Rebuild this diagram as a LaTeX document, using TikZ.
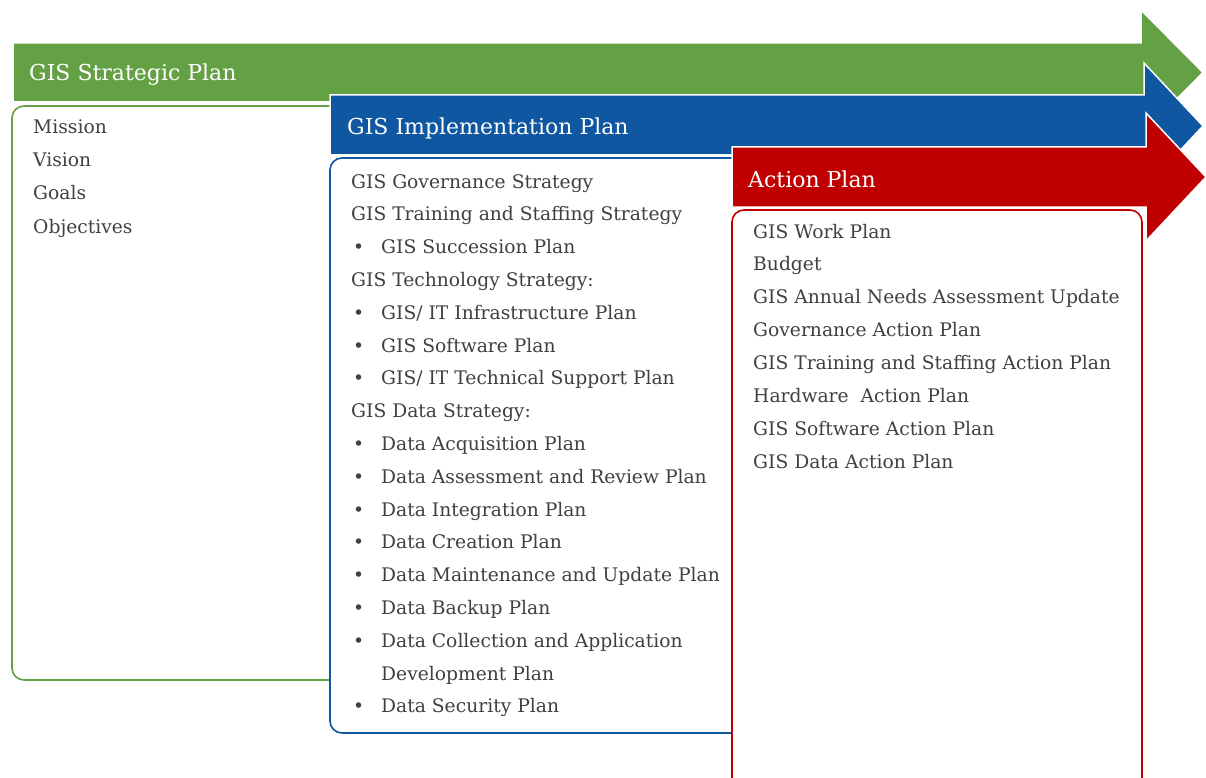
\documentclass[tikz,border=0pt]{standalone}
\usepackage{fontspec}
\setmainfont{DejaVu Serif}

\definecolor{stratgreen}{HTML}{64A044}
\definecolor{implblue}{HTML}{0F57A0}
\definecolor{actred}{HTML}{C00000}
\definecolor{bodygray}{HTML}{404040}

\tikzset{
  planarrow/.style={fill=#1, draw=white, line width=1.5pt},
  planbox/.style={draw=#1, line width=1.6pt, rounded corners=12pt},
  heading/.style={anchor=base west, inner sep=0pt, text=white,
    font=\fontsize{22}{26}\selectfont},
  item/.style={anchor=base west, inner sep=0pt, text=bodygray,
    font=\fontsize{18.7}{22}\selectfont},
}

\begin{document}
\begin{tikzpicture}[x=1pt,y=-1pt]
        \useasboundingbox (0,0) rectangle (1206,778);
        \clip (0,0) rectangle (1206,778);

        % Strategic plan: arrow and box (right side runs under the next box)
        \path[planarrow=stratgreen] (13,43) -- (1141,43) -- (1141,10) -- (1203,72.5)
            -- (1141,135) -- (1141,102) -- (13,102) -- cycle;
        \path[planbox=stratgreen] (345,106) -- (12,106) -- (12,680) -- (345,680);
        \node[heading] (strat-title) at (29,81) {GIS Strategic Plan};
        \foreach \t [count=\i] in {Mission, Vision, Goals, Objectives} {
            \pgfmathsetmacro{\y}{127+33*(\i-1)}
            \node[item] (strat-\i) at (33,\y+7) {\t};
        }

        % Implementation plan: arrow and box
        \path[planarrow=implblue] (330,95) -- (1144,95) -- (1144,63) -- (1203,126)
            -- (1144,189) -- (1144,155) -- (330,155) -- cycle;
        \fill[white] (330,158) rectangle (750,733);
        \path[planbox=implblue] (750,158) -- (330,158) -- (330,733) -- (750,733);
        \node[heading] (impl-title) at (347,135) {GIS Implementation Plan};
        % 0 = plain line, 1 = bulleted line, 2 = wrapped bullet text
        \foreach \k/\t [count=\i] in {
            0/{GIS Governance Strategy},
            0/{GIS Training and Staffing Strategy},
            1/{GIS Succession Plan},
            0/{GIS Technology Strategy:},
            1/{GIS/ IT Infrastructure Plan},
            1/{GIS Software Plan},
            1/{GIS/ IT Technical Support Plan},
            0/{GIS Data Strategy:},
            1/{Data Acquisition Plan},
            1/{Data Assessment and Review Plan},
            1/{Data Integration Plan},
            1/{Data Creation Plan},
            1/{Data Maintenance and Update Plan},
            1/{Data Backup Plan},
            1/{Data Collection and Application},
            2/{Development Plan},
            1/{Data Security Plan}} {
            \pgfmathsetmacro{\y}{181+32.8*(\i-1)}
            \pgfmathsetmacro{\x}{\k==0 ? 351 : 381}
            \ifnum\k=1
                \node[item] (impl-dot-\i) at (353,\y+7) {\textbullet};
            \fi
            \node[item] (impl-\i) at (\x,\y+7) {\t};
        }

        % Action plan: arrow and box
        \path[planarrow=actred] (732,147) -- (1146,147) -- (1146,113) -- (1206,177)
            -- (1146,241) -- (1146,207) -- (732,207) -- cycle;
        \path[planbox=actred, fill=white] (732,210) rectangle (1142,792);
        \node[heading] (act-title) at (748,187) {Action Plan};
        \foreach \t [count=\i] in {
            GIS Work Plan,
            Budget,
            GIS Annual Needs Assessment Update,
            Governance Action Plan,
            GIS Training and Staffing Action Plan,
            Hardware~ Action Plan,
            GIS Software Action Plan,
            GIS Data Action Plan} {
            \pgfmathsetmacro{\y}{231+32.9*(\i-1)}
            \node[item] (act-\i) at (753,\y+7) {\t};
        }
\end{tikzpicture}
\end{document}
